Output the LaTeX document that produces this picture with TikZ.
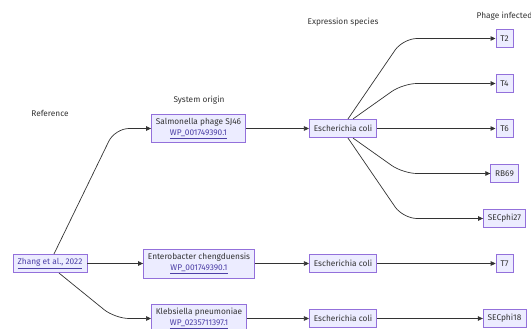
\documentclass[tikz,border=0pt]{standalone}
\usepackage{fontspec}
\setmainfont{Fira Sans}
\usetikzlibrary{arrows.meta}

\definecolor{boxfill}{HTML}{ECECFF}
\definecolor{boxline}{HTML}{9370DB}
\definecolor{txt}{HTML}{333333}
\definecolor{linkc}{HTML}{4C3FA6}
\newcommand{\weblink}[1]{\textcolor{linkc}{\underline{#1}}}

\tikzset{
  box/.style={draw=boxline, fill=boxfill, line width=0.6pt, text=txt,
    font=\fontsize{8.3}{11}\selectfont, align=center,
    inner xsep=4.5pt, inner ysep=4pt, minimum height=18.5pt},
  heading/.style={text=txt, font=\fontsize{8.3}{10}\selectfont},
  flow/.style={draw=txt, line width=0.7pt, rounded corners=14pt,
    -{Triangle[length=5pt,width=4.5pt]}},
}

\begin{document}
\begin{tikzpicture}[x=1pt,y=-1pt]
        \useasboundingbox (0,0) rectangle (531,329);

        % Column headings
        \node[heading] (hdref) at (50,113) {Reference};
        \node[heading] (hdorigin) at (199,100) {System origin};
        \node[heading] (hdexpr) at (343,22) {Expression species};
        \node[heading] (hdphage) at (504.5,16) {Phage infected};

        % Reference and systems
        \node[box] (zhang) at (50,263.5) {\weblink{Zhang et al., 2022}};
        \node[box] (sj46) at (198.5,128.5) {Salmonella phage SJ46\\\weblink{WP\_001749390.1}};
        \node[box] (entero) at (199,263.5) {Enterobacter chengduensis\\\weblink{WP\_001749390.1}};
        \node[box] (kleb) at (199,318.5) {Klebsiella pneumoniae\\\weblink{WP\_0235711397.1}};

        % Expression species
        \node[box] (ecoli1) at (343,128.5) {Escherichia coli};
        \node[box] (ecoli2) at (343,263.5) {Escherichia coli};
        \node[box] (ecoli3) at (343,318.5) {Escherichia coli};

        % Phages
        \node[box] (t2) at (504.5,38.5) {T2};
        \node[box] (t4) at (504.5,83.5) {T4};
        \node[box] (t6) at (504.5,128.5) {T6};
        \node[box] (rb69) at (504.5,173.5) {RB69};
        \node[box] (secphi27) at (504.5,218.5) {SECphi27};
        \node[box] (t7) at (504.5,263.5) {T7};
        \node[box] (secphi18) at (504.5,318.5) {SECphi18};

        % Edges from the reference
        \coordinate (bendup) at (115,128.5);
        \coordinate (benddown) at (115,318.5);
        \draw[flow] ([xshift=4pt]zhang.north) -- (bendup) -- (sj46);
        \draw[flow] (zhang) -- (entero);
        \draw[flow] ([xshift=9pt]zhang.south) -- (benddown) -- (kleb);

        % Straight edges
        \foreach \a/\b in {sj46/ecoli1, entero/ecoli2, kleb/ecoli3,
                           ecoli1/t6, ecoli2/t7, ecoli3/secphi18}
           {
                \draw[flow] (\a) -- (\b);
           }

        % Fan out of the first host
        \coordinate (kink) at (403,0);
        \foreach \tgt/\dx/\sd in {t2/5/north, t4/10/north, rb69/10/south, secphi27/5/south}
           {
                \draw[flow] ([xshift=\dx pt]ecoli1.\sd) -- (\tgt.west -| kink) -- (\tgt);
           }
    \end{tikzpicture}
\end{document}
